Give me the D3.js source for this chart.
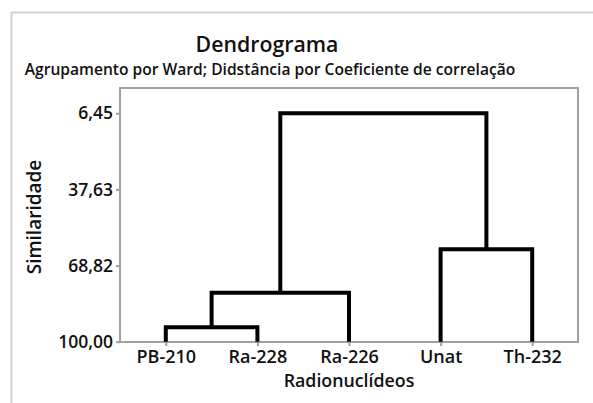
<!DOCTYPE html>
<html><head><meta charset="utf-8">
<script src="https://cdn.jsdelivr.net/npm/d3@7"></script>
<style>html,body{margin:0;padding:0;background:#fff;}svg{display:block;font-family:"Open Sans",sans-serif;}</style>
</head><body>
<script>
const leaves = ["PB-210", "Ra-228", "Ra-226", "Unat", "Th-232"];
const yTicks = [6.45, 37.63, 68.82, 100.00];
const mergeLeft  = ["PB-210", "C1", "Unat", "C2"];
const mergeRight = ["Ra-228", "Ra-226", "Th-232", "C3"];
const mergeSim   = [94.1, 79.9, 62.15, 6.45];
const title = "Dendrograma";
const subtitle = "Agrupamento por Ward; Didstância por Coeficiente de correlação";
const xTitle = "Radionuclídeos";
const yTitle = "Similaridade";

const W = 593, H = 403;
const plot = {l: 120, t: 88, r: 578, b: 342};
const svg = d3.select("body").append("svg").attr("width", W).attr("height", H);

// outer frame
svg.append("path").attr("d", `M11.5,${H} V12.5 H${W}`).attr("fill", "none")
  .attr("stroke", "#d2d2d2").attr("stroke-width", 2);

const x = d3.scalePoint().domain(leaves).range([plot.l, plot.r]).padding(0.5);
const y = d3.scaleLinear().domain([100, 6.45]).range([341.7, 113.3]);

// plot frame
svg.append("rect").attr("x", plot.l).attr("y", plot.t)
  .attr("width", plot.r - plot.l).attr("height", plot.b - plot.t)
  .attr("fill", "none").attr("stroke", "#a0a0a0").attr("stroke-width", 2);

// axes
const fmt = d => d.toFixed(2).replace(".", ",");
const yAxis = svg.append("g").attr("transform", `translate(${plot.l},0)`)
  .call(d3.axisLeft(y).tickValues(yTicks).tickFormat(fmt).tickSize(4).tickPadding(3));
const xAxis = svg.append("g").attr("transform", `translate(0,${plot.b})`)
  .call(d3.axisBottom(x).tickSize(4).tickPadding(4));
[[yAxis, "17.5px"], [xAxis, "18px"]].forEach(([g, fs]) => {
  g.select(".domain").remove();
  g.selectAll(".tick line").attr("stroke", "#a0a0a0").attr("stroke-width", 2);
  g.selectAll("text").attr("fill", "#111").style("font-size", fs).style("font-weight", 600)
    .style("font-family", '"Open Sans",sans-serif');
});

// dendrogram
const nodes = {};
leaves.forEach(l => nodes[l] = {x: x(l), s: 100});
const segs = [];
mergeSim.forEach((s, i) => {
  const a = nodes[mergeLeft[i]], b = nodes[mergeRight[i]];
  segs.push(`M${a.x},${y(a.s)}V${y(s)}H${b.x}V${y(b.s)}`);
  nodes["C" + (i + 1)] = {x: (a.x + b.x) / 2, s: s};
});
svg.append("path").attr("d", segs.join("")).attr("fill", "none")
  .attr("stroke", "#000").attr("stroke-width", 4).attr("stroke-linejoin", "miter");

// texts
svg.append("text").attr("x", 267).attr("y", 52).attr("text-anchor", "middle").attr("fill", "#111")
  .style("font-size", "21.3px").style("font-weight", 600).text(title);
svg.append("text").attr("x", 270).attr("y", 75).attr("text-anchor", "middle").attr("fill", "#111")
  .style("font-size", "15.6px").style("font-weight", 600).text(subtitle);
svg.append("text").attr("x", (plot.l + plot.r) / 2).attr("y", 387).attr("text-anchor", "middle").attr("fill", "#111")
  .style("font-size", "17.8px").style("font-weight", 600).text(xTitle);
svg.append("text").attr("transform", `translate(41,${(plot.t + plot.b) / 2 + 2}) rotate(-90)`).attr("fill", "#111")
  .attr("text-anchor", "middle").style("font-size", "19px").style("font-weight", 600).text(yTitle);
</script>
</body></html>
